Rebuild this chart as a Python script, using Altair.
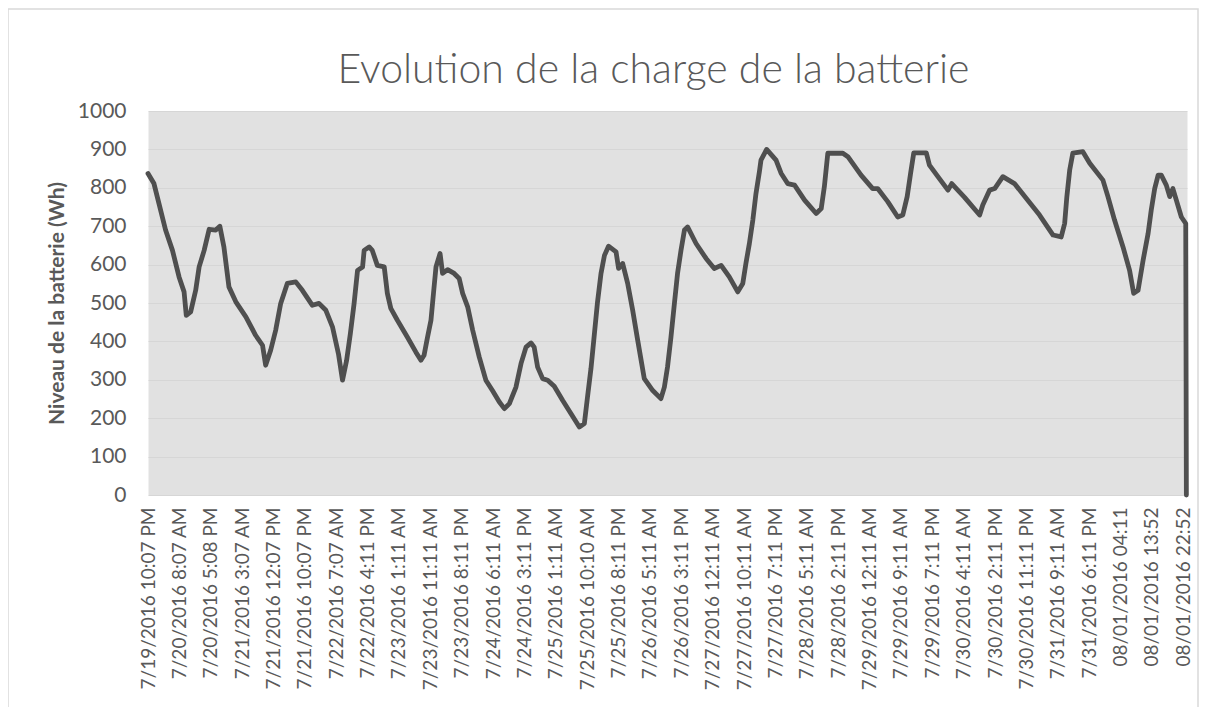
import json
import altair as alt
import pandas as pd

# Category labels of the x axis (one every label step)
labels = [
    "7/19/2016 10:07 PM", "7/20/2016 8:07 AM", "7/20/2016 5:08 PM", "7/21/2016 3:07 AM",
    "7/21/2016 12:07 PM", "7/21/2016 10:07 PM", "7/22/2016 7:07 AM", "7/22/2016 4:11 PM",
    "7/23/2016 1:11 AM", "7/23/2016 11:11 AM", "7/23/2016 8:11 PM", "7/24/2016 6:11 AM",
    "7/24/2016 3:11 PM", "7/25/2016 1:11 AM", "7/25/2016 10:10 AM", "7/25/2016 8:11 PM",
    "7/26/2016 5:11 AM", "7/26/2016 3:11 PM", "7/27/2016 12:11 AM", "7/27/2016 10:11 AM",
    "7/27/2016 7:11 PM", "7/28/2016 5:11 AM", "7/28/2016 2:11 PM", "7/29/2016 12:11 AM",
    "7/29/2016 9:11 AM", "7/29/2016 7:11 PM", "7/30/2016 4:11 AM", "7/30/2016 2:11 PM",
    "7/30/2016 11:11 PM", "7/31/2016 9:11 AM", "7/31/2016 6:11 PM", "08/01/2016 04:11",
    "08/01/2016 13:52", "08/01/2016 22:52",
]

# Position along the time axis, in label steps
t = [
    0.00, 0.19, 0.35, 0.56, 0.78, 0.99, 1.15, 1.22, 1.36, 1.52, 1.63, 1.79, 1.95, 2.16,
    2.29, 2.42, 2.58, 2.80, 3.12, 3.43, 3.65, 3.75, 3.91, 4.07, 4.23, 4.44, 4.71, 4.92,
    5.24, 5.45, 5.67, 5.88, 6.07, 6.20, 6.33, 6.45, 6.57, 6.68, 6.84, 6.89, 7.05, 7.15,
    7.31, 7.53, 7.63, 7.74, 7.95, 8.27, 8.54, 8.70, 8.80, 8.91, 9.02, 9.10, 9.18, 9.31,
    9.39, 9.55, 9.76, 9.92, 10.03, 10.19, 10.35, 10.56, 10.77, 10.98, 11.20, 11.36, 11.52,
    11.73, 11.89, 12.05, 12.21, 12.31, 12.42, 12.58, 12.74, 12.95, 13.22, 13.75, 13.91,
    14.01, 14.12, 14.23, 14.33, 14.44, 14.55, 14.68, 14.92, 15.00, 15.13, 15.29, 15.45,
    15.61, 15.82, 16.09, 16.35, 16.46, 16.56, 16.67, 16.78, 16.88, 16.99, 17.10, 17.20,
    17.47, 17.79, 18.05, 18.27, 18.53, 18.80, 18.96, 19.06, 19.17, 19.28, 19.38, 19.49,
    19.54, 19.72, 20.02, 20.18, 20.39, 20.61, 20.93, 21.30, 21.46, 21.56, 21.67, 22.15,
    22.31, 22.73, 23.10, 23.26, 23.58, 23.90, 24.06, 24.20, 24.31, 24.41, 24.81, 24.91,
    25.18, 25.50, 25.62, 26.03, 26.51, 26.61, 26.83, 26.99, 27.25, 27.62, 28.00, 28.42,
    28.85, 29.11, 29.22, 29.29, 29.38, 29.48, 29.80, 30.02, 30.44, 30.60, 30.81, 31.08,
    31.29, 31.42, 31.56, 31.72, 31.88, 31.98, 32.09, 32.20, 32.30, 32.46, 32.57, 32.67,
    32.78, 32.94, 33.08, 33.10,
]

# Battery level (Wh)
niveau = [
    837, 811, 759, 690, 637, 568, 529, 468, 477, 533, 594, 637, 692, 690,
    700, 646, 542, 503, 464, 416, 390, 338, 377, 429, 499, 551, 555, 533,
    494, 499, 481, 438, 368, 299, 350, 420, 499, 585, 594, 637, 646, 637,
    598, 594, 525, 486, 455, 411, 372, 351, 364, 411, 455, 525, 594, 629,
    577, 587, 577, 564, 525, 490, 429, 359, 299, 272, 242, 225, 238,
    281, 342, 385, 396, 385, 333, 303, 299, 283, 246, 177, 186,
    255, 329, 420, 503, 577, 624, 648, 633, 590, 603, 551, 481,
    403, 303, 272, 251, 281, 333, 411, 499, 577, 637, 690, 698,
    655, 616, 590, 598, 568, 529, 551, 603, 655, 716, 785, 842,
    872, 900, 872, 838, 811, 807, 768, 733, 746, 803, 890, 890,
    881, 833, 798, 798, 764, 724, 729, 777, 838, 891, 891, 859,
    829, 794, 811, 775, 729, 755, 794, 798, 829, 811, 772, 729,
    677, 672, 707, 777, 846, 890, 894, 864, 820, 777, 716, 646,
    585, 525, 533, 611, 681, 742, 798, 833, 833, 807, 777, 798,
    768, 724, 707, 0,
]

y_ticks = list(range(0, 1001, 100))

df = pd.DataFrame({"t": t, "niveau": niveau})

label_expr = json.dumps(labels) + "[round(datum.value)]"

FONT = "Lato"
GREY = "#595959"

line = alt.Chart(df).mark_line(
    color="#4F4F4F", strokeWidth=4.8, strokeJoin="round", strokeCap="round"
).encode(
    x=alt.X(
        "t:Q",
        scale=alt.Scale(domain=[0, 33.12], nice=False, zero=False),
        axis=alt.Axis(
            values=list(range(len(labels))),
            labelExpr=label_expr,
            labelAngle=270,
            labelAlign="right",
            labelBaseline="middle",
            labelFont=FONT,
            labelFontSize=19,
            labelColor=GREY,
            labelPadding=12,
            labelLimit=0,
            labelOverlap=False,
            labelBound=False,
            labelFlush=False,
            ticks=False,
            tickSize=0,
            domain=False,
            grid=False,
            title=None,
        ),
    ),
    y=alt.Y(
        "niveau:Q",
        scale=alt.Scale(domain=[0, 1000], nice=False),
        axis=alt.Axis(
            values=y_ticks,
            format="d",
            labelFont=FONT,
            labelFontSize=21,
            labelColor=GREY,
            labelPadding=22,
            ticks=False,
            tickSize=0,
            domain=False,
            grid=True,
            gridColor="#D6D6D6",
            gridWidth=1,
            title="Niveau de la batterie (Wh)",
            titleFont=FONT,
            titleFontSize=21,
            titleFontWeight="bold",
            titleColor=GREY,
            titlePadding=10,
        ),
    ),
)

# Light grey frame around the whole chart area (decoration only)
frame = alt.Chart(df).mark_rect(
    fill=None, stroke="#D9D9D9", strokeWidth=1.5, clip=False
).encode(
    x=alt.value(-140), x2=alt.value(1050), y=alt.value(-102), y2=alt.value(650)
).transform_filter("datum.t == 0")

chart = alt.layer(frame, line).properties(
    width=1039,
    height=384,
    autosize=alt.AutoSizeParams(type="none"),
    padding={"left": 140, "top": 103, "right": 12, "bottom": 212},
    title=alt.TitleParams(
        "Evolution de la charge de la batterie",
        font=FONT,
        fontSize=41,
        fontWeight=300,
        color=GREY,
        anchor="middle",
        baseline="alphabetic",
        offset=-116,
        dx=-14,
    ),
).configure_view(
    fill="#E1E1E1", stroke="transparent"
)

chart.save("out.html", embed_options={"renderer": "svg", "actions": False})
